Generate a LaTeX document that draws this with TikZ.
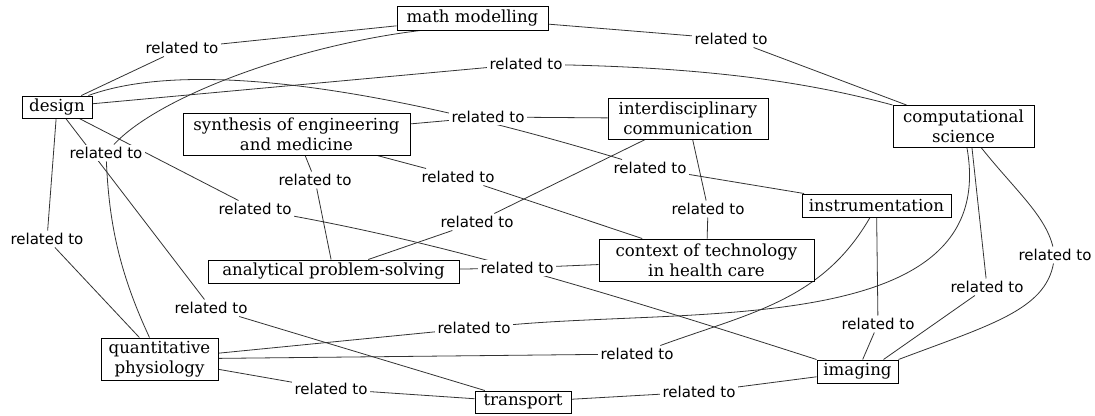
\documentclass[tikz,border=0pt]{standalone}
\usepackage{fontspec}
\newfontfamily\conceptfont{DejaVu Serif}
\newfontfamily\linkfont{DejaVu Sans}
\pgfdeclarelayer{backfill}
\pgfdeclarelayer{bg}
\pgfsetlayers{backfill,bg,main}
\begin{document}
\begin{tikzpicture}[x=1pt,y=-1pt,
  concept/.style={draw=black, line width=1pt, fill=white, inner sep=0pt, align=center,
    font=\conceptfont\fontsize{16.6}{20}\selectfont},
  link/.style={fill=white, inner sep=2.5pt, font=\linkfont\fontsize{15}{18}\selectfont},
  conn/.style={line width=0.8pt, draw=black!80}]
\useasboundingbox (0,0) rectangle (1095,415);
\begin{pgfonlayer}{backfill}
\fill[white] (0,0) rectangle (1095,415);
\end{pgfonlayer}

% concepts
\node[concept, minimum width=151pt, minimum height=24pt] (mm) at (472.5,18) {math modelling};
\node[concept, minimum width=70pt, minimum height=22pt] (design) at (57,107) {design};
\node[concept, minimum width=141pt, minimum height=42pt] (cs) at (963.5,126.5) {computational\\science};
\node[concept, minimum width=227pt, minimum height=42pt] (synth) at (296.5,134) {synthesis of engineering\\and medicine};
\node[concept, minimum width=160pt, minimum height=41pt] (interdisc) at (688,118.5) {interdisciplinary\\communication};
\node[concept, minimum width=149pt, minimum height=23pt] (instr) at (876.5,205.5) {instrumentation};
\node[concept, minimum width=215pt, minimum height=42pt] (context) at (706.5,260) {context of technology\\in health care};
\node[concept, minimum width=251pt, minimum height=23pt] (analytical) at (333.5,271.5) {analytical problem-solving};
\node[concept, minimum width=117pt, minimum height=42pt] (qp) at (159.5,359) {quantitative\\physiology};
\node[concept, minimum width=96pt, minimum height=22pt] (transport) at (523,402) {transport};
\node[concept, minimum width=81pt, minimum height=23pt] (imaging) at (857.5,371.5) {imaging};

% linking phrases
\node[link] (L1) at (182,48) {related to};
\node[link] (L2) at (731,39) {related to};
\node[link] (L3) at (526,64) {related to};
\node[link] (L4) at (488,117) {related to};
\node[link] (L5) at (650,168) {related to};
\node[link] (L6) at (106,153) {related to};
\node[link] (L7) at (47,239) {related to};
\node[link] (L8) at (315,180) {related to};
\node[link] (L9) at (255,209) {related to};
\node[link] (L10) at (211,308) {related to};
\node[link] (L11) at (458,177) {related to};
\node[link] (L12) at (708,209) {related to};
\node[link] (L13) at (477,222) {related to};
\node[link] (L14) at (517,268) {related to};
\node[link] (L15) at (878,324) {related to};
\node[link] (L16) at (987,287) {related to};
\node[link] (L17) at (1055,255) {related to};
\node[link] (L18) at (474,328) {related to};
\node[link] (L19) at (637,354) {related to};
\node[link] (L20) at (331,389) {related to};
\node[link] (L21) at (699,392) {related to};

\begin{pgfonlayer}{bg}
\draw[conn] (design) -- (L1) -- (mm);
\draw[conn] (mm) -- (L2) -- (cs);
\draw[conn] (design) -- (L3);
\draw[conn] (L3) .. controls (700,68) and (800,80) .. (cs.north west);
\draw[conn] (synth) -- (L4) -- (interdisc);
\draw[conn] (design) .. controls (180,62) and (360,80) .. (L5);
\draw[conn] (L5) -- (instr);
\draw[conn] ([xshift=-52pt]mm.south) .. controls (300,45) and (160,95) .. (L6);
\draw[conn] (L6) .. controls (109,220) and (118,270) .. ([xshift=-10pt]qp.north);
\draw[conn] (design) -- (L7) -- (qp);
\draw[conn] (synth) -- (L8) -- (analytical);
\draw[conn] (design) -- (L9);
\draw[conn] (L9) .. controls (450,245) and (600,290) .. (imaging.north west);
\draw[conn] (design) -- (L10) -- (transport);
\draw[conn] (synth) -- (L11) -- (context);
\draw[conn] (interdisc) -- (L12) -- (context);
\draw[conn] (interdisc) -- (L13) -- (analytical);
\draw[conn] (analytical) -- (L14) -- (context);
\draw[conn] (instr) -- (L15) -- (imaging);
\draw[conn] ([xshift=8.5pt]cs.south) -- (L16);
\draw[conn] (L16) -- ([xshift=26pt]imaging.north);
\draw[conn] ([xshift=18pt]cs.south) .. controls (1015,190) and (1045,215) .. (L17);
\draw[conn] (L17) .. controls (1045,310) and (990,325) .. (imaging.north east);
\draw[conn] (qp) -- (L18);
\draw[conn] (L18) to[out=5,in=-80] ([xshift=3.5pt]cs.south);
\draw[conn] (qp) -- (L19);
\draw[conn] (L19) to[out=20,in=-120] ([xshift=-6.5pt]instr.south);
\draw[conn] (qp) -- (L20) -- (transport);
\draw[conn] (transport) -- (L21) -- (imaging);
\end{pgfonlayer}
\end{tikzpicture}
\end{document}
